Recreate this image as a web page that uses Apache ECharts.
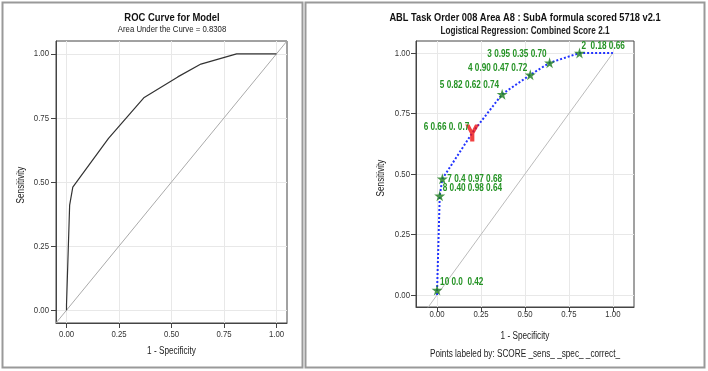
<!DOCTYPE html>
<html>
<head>
<meta charset="utf-8">
<script src="https://cdn.jsdelivr.net/npm/echarts@6/dist/echarts.min.js"></script>
<style>
html,body{margin:0;padding:0;background:#fff;}
#chart{width:708px;height:371px;}
</style>
</head>
<body>
<div id="chart"></div>
<script>
// ---- data ----
const rocX = [0, 0, 0.015, 0.03, 0.2, 0.37, 0.53, 0.64, 0.81, 1];
const rocY = [0, 0.02, 0.41, 0.48, 0.67, 0.83, 0.91, 0.96, 1, 1];
const pointScore = [null, 10, 8, 7, 6, 5, 4, 3, 2, null];
const pointLabel = [null, '10 0.0  0.42', '8 0.40 0.98 0.64', '7 0.4 0.97 0.68', '6 0.66 0. 0.7',
  '5 0.82 0.62 0.74', '4 0.90 0.47 0.72', '3 0.95 0.35 0.70', '2  0.18 0.66', null];
const cutoffScore = 6;
const tickValues = [0, 0.25, 0.5, 0.75, 1];
const leftTitle = 'ROC Curve for Model';
const leftSubtitle = 'Area Under the Curve = 0.8308';
const rightTitle = 'ABL Task Order 008 Area A8 : SubA formula scored 5718 v2.1';
const rightSubtitle = 'Logistical Regression: Combined Score 2.1';
const footnote = 'Points labeled by: SCORE _sens_ _spec_ _correct_';
const xTitle = '1 - Specificity';
const yTitle = 'Sensitivity';

// ---- style ----
const FONT = '"Liberation Sans", Arial, sans-serif';
const NARROW = 0.82; // horizontal squeeze to mimic a narrow face
const labelPlace = { // score -> [align, dx, dy]
  10: ['left', 3, -8], 8: ['left', 3, -8], 7: ['left', 5, 0], 6: ['right', -3, -6],
  5: ['right', -3, -9], 4: ['right', -3, -7], 3: ['right', -3, -9], 2: ['left', 2, -7]
};
const STAR = 'path://M50,0 L61,35 L98,35 L68,57 L79,91 L50,70 L21,91 L32,57 L2,35 L39,35 Z';
const YSYM = 'path://M0,0 L3.6,0 L6,5 L8.4,0 L12,0 L7.8,8 L7.8,15 L4.2,15 L4.2,8 Z';
const AX = [ // per grid: axis ranges and label offsets
  { xMin: -0.05, xMax: 1.05, xLabDy: 11.5, yLabDx: 7 },
  { xMin: -0.12, xMax: 1.12, xLabDy: 7.5, yLabDx: 6 }
];
const Y_MIN = -0.05, Y_MAX = 1.05;

const chart = echarts.init(document.getElementById('chart'));
const curve = rocX.map((x, i) => [x, rocY[i]]);

function txt(text, x, y, size, weight, color, align, rot) {
  return { type: 'text', x: x, y: y, scaleX: NARROW, rotation: rot || 0, silent: true,
    style: { text: text, fontFamily: FONT, fontSize: size, fontWeight: weight, fill: color,
      align: align || 'center', verticalAlign: 'middle' } };
}

function xAxisCfg(idx) {
  return {
    gridIndex: idx, type: 'value', min: AX[idx].xMin, max: AX[idx].xMax,
    axisLine: { show: true, onZero: false, lineStyle: { color: '#444' } },
    axisTick: { show: true, customValues: tickValues, length: 5, lineStyle: { color: '#444' } },
    axisLabel: { show: false, customValues: tickValues },
    splitLine: { show: true, lineStyle: { color: '#e8e8e8' } }
  };
}
function yAxisCfg(idx) {
  return {
    gridIndex: idx, type: 'value', min: Y_MIN, max: Y_MAX,
    axisLine: { show: true, onZero: false, lineStyle: { color: '#444' } },
    axisTick: { show: true, customValues: tickValues, length: 5, lineStyle: { color: '#444' } },
    axisLabel: { show: false, customValues: tickValues },
    splitLine: { show: true, lineStyle: { color: '#e8e8e8' } }
  };
}

function tickLabelSeries(gi) {
  return {
    type: 'custom', xAxisIndex: gi, yAxisIndex: gi, clip: false, silent: true,
    data: tickValues.map(v => [v, v]),
    renderItem: function (params, api) {
      const v = api.value(0);
      const px = api.coord([v, Y_MIN]);
      const py = api.coord([AX[gi].xMin, v]);
      return { type: 'group', children: [
        txt(v.toFixed(2), px[0], px[1] + AX[gi].xLabDy, 9.5, 'normal', '#333', 'center'),
        txt(v.toFixed(2), py[0] - AX[gi].yLabDx, py[1], 9.5, 'normal', '#333', 'right')
      ] };
    }
  };
}

const starData = [], cutData = [], labelData = [];
pointScore.forEach((s, i) => {
  if (s === null) return;
  if (s === cutoffScore) cutData.push([rocX[i], rocY[i]]); else starData.push([rocX[i], rocY[i]]);
  labelData.push([rocX[i], rocY[i], i]);
});

chart.setOption({
  animation: false,
  graphic: [
    { type: 'rect', shape: { x: 2.5, y: 2.5, width: 300, height: 365 }, style: { fill: 'none', stroke: '#999', lineWidth: 2 }, silent: true },
    { type: 'rect', shape: { x: 305.5, y: 2.5, width: 399, height: 365 }, style: { fill: 'none', stroke: '#999', lineWidth: 2 }, silent: true },
    txt(leftTitle, 172, 17.5, 11.5, 'bold', '#111'),
    txt(leftSubtitle, 172, 29.5, 9.5, 'normal', '#222'),
    txt(rightTitle, 525, 17.5, 11.3, 'bold', '#111'),
    txt(rightSubtitle, 525, 31, 10, 'bold', '#222'),
    txt(footnote, 525, 354, 10, 'normal', '#222'),
    txt(xTitle, 171.5, 351.5, 10, 'normal', '#222'),
    txt(xTitle, 525, 336, 10, 'normal', '#222'),
    txt(yTitle, 21.5, 185, 10, 'normal', '#222', 'center', Math.PI / 2),
    txt(yTitle, 381.5, 178, 10, 'normal', '#222', 'center', Math.PI / 2)
  ],
  grid: [
    { left: 56, top: 41, width: 231, height: 282, show: true, borderColor: '#444', borderWidth: 1, backgroundColor: 'transparent' },
    { left: 416, top: 41, width: 218, height: 266, show: true, borderColor: '#444', borderWidth: 1, backgroundColor: 'transparent' }
  ],
  xAxis: [xAxisCfg(0), xAxisCfg(1)],
  yAxis: [yAxisCfg(0), yAxisCfg(1)],
  series: [
    tickLabelSeries(0),
    tickLabelSeries(1),
    { type: 'line', xAxisIndex: 0, yAxisIndex: 0, data: [[-0.05, -0.05], [1.05, 1.05]], symbol: 'none',
      lineStyle: { color: '#aaa', width: 1 }, silent: true },
    { type: 'line', xAxisIndex: 0, yAxisIndex: 0, data: curve, symbol: 'none',
      lineStyle: { color: '#333', width: 1.2 } },
    { type: 'line', xAxisIndex: 1, yAxisIndex: 1, data: [[-0.053, -0.053], [1, 1]], symbol: 'none',
      lineStyle: { color: '#bbb', width: 1 }, silent: true },
    { type: 'line', xAxisIndex: 1, yAxisIndex: 1, data: curve, symbol: 'none',
      lineStyle: { color: '#2233ff', width: 2, type: [2, 2] } },
    { type: 'scatter', xAxisIndex: 1, yAxisIndex: 1, data: starData, symbol: STAR, symbolSize: 11,
      itemStyle: { color: '#1b7d1b' }, z: 5 },
    { type: 'scatter', xAxisIndex: 1, yAxisIndex: 1, data: cutData, symbol: YSYM, symbolSize: [14, 17],
      itemStyle: { color: '#ee1111' }, z: 6 },
    { type: 'custom', xAxisIndex: 1, yAxisIndex: 1, clip: false, silent: true, z: 7,
      data: labelData,
      renderItem: function (params, api) {
        const p = api.coord([api.value(0), api.value(1)]);
        const idx = api.value(2);
        const pl = labelPlace[pointScore[idx]];
        return txt(pointLabel[idx], p[0] + pl[1], p[1] + pl[2], 10, 'bold', '#259325', pl[0]);
      } }
  ]
});
</script>
</body>
</html>
